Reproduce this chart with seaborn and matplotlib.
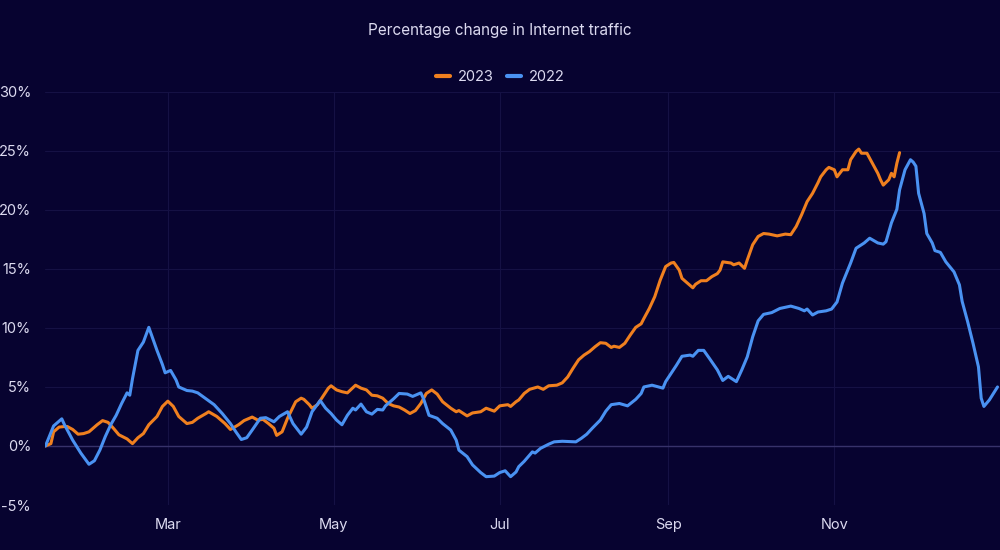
import numpy as np
import pandas as pd
import matplotlib
matplotlib.use('Agg')
import matplotlib.pyplot as plt
import matplotlib.dates as mdates
import seaborn as sns

# 2022 series (month-day, % change)
days_2022 = ['01-15', '01-18', '01-21', '01-22', '01-25', '01-28', '01-31', '02-02', '02-04', '02-06',
             '02-08', '02-10', '02-12', '02-14', '02-15', '02-16', '02-18', '02-20', '02-22', '02-23',
             '02-25', '02-27', '02-28', '03-02', '03-04', '03-05', '03-08', '03-10', '03-12', '03-15',
             '03-18', '03-21', '03-24', '03-26', '03-28', '03-30', '04-01', '04-04', '04-06', '04-09',
             '04-11', '04-14', '04-16', '04-19', '04-21', '04-23', '04-26', '04-28', '04-30', '05-02',
             '05-04', '05-06', '05-08', '05-09', '05-11', '05-13', '05-15', '05-17', '05-19', '05-20',
             '05-23', '05-25', '05-28', '05-30', '05-31', '06-02', '06-03', '06-05', '06-08', '06-10',
             '06-13', '06-15', '06-16', '06-19', '06-21', '06-24', '06-26', '06-29', '07-01', '07-03',
             '07-05', '07-07', '07-08', '07-10', '07-13', '07-14', '07-16', '07-19', '07-21', '07-24',
             '07-29', '07-31', '08-02', '08-04', '08-07', '08-09', '08-11', '08-14', '08-17', '08-20',
             '08-22', '08-23', '08-26', '08-30', '08-31', '09-02', '09-04', '09-06', '09-09', '09-10',
             '09-12', '09-14', '09-16', '09-19', '09-21', '09-23', '09-26', '09-28', '09-30', '10-02',
             '10-04', '10-06', '10-09', '10-12', '10-16', '10-19', '10-21', '10-22', '10-24', '10-26',
             '10-29', '10-31', '11-02', '11-04', '11-07', '11-09', '11-12', '11-14', '11-17', '11-19',
             '11-20', '11-22', '11-24', '11-25', '11-27', '11-29', '11-30', '12-01', '12-02', '12-04',
             '12-05', '12-07', '12-08', '12-10', '12-12', '12-15', '12-17', '12-18', '12-20', '12-22',
             '12-24', '12-25', '12-26', '12-28', '12-31']
vals_2022 = [0.0, 1.7, 2.3, 1.8, 0.5, -0.6, -1.55, -1.25, -0.35, 0.8,
             1.8, 2.6, 3.6, 4.5, 4.3, 5.7, 8.1, 8.8, 10.05, 9.4,
             8.1, 6.9, 6.2, 6.4, 5.6, 5.0, 4.7, 4.65, 4.5, 4.0,
             3.5, 2.75, 1.9, 1.2, 0.55, 0.7, 1.35, 2.35, 2.4, 2.05,
             2.5, 2.9, 1.9, 1.0, 1.6, 2.9, 3.85, 3.2, 2.75, 2.2,
             1.8, 2.6, 3.2, 3.05, 3.55, 2.9, 2.7, 3.1, 3.05, 3.4,
             4.0, 4.45, 4.4, 4.2, 4.3, 4.5, 4.0, 2.6, 2.35, 1.9,
             1.35, 0.5, -0.35, -0.9, -1.6, -2.25, -2.6, -2.55, -2.25, -2.1,
             -2.6, -2.2, -1.75, -1.3, -0.5, -0.6, -0.2, 0.15, 0.35, 0.4,
             0.35, 0.65, 1.0, 1.5, 2.2, 2.95, 3.5, 3.6, 3.4, 3.95,
             4.45, 5.0, 5.15, 4.9, 5.45, 6.15, 6.85, 7.6, 7.7, 7.6,
             8.1, 8.1, 7.45, 6.45, 5.55, 5.9, 5.45, 6.45, 7.55, 9.25,
             10.6, 11.15, 11.3, 11.65, 11.85, 11.65, 11.45, 11.6, 11.1, 11.35,
             11.45, 11.6, 12.2, 13.8, 15.5, 16.75, 17.2, 17.6, 17.2, 17.1,
             17.3, 18.9, 20.05, 21.7, 23.4, 24.25, 24.05, 23.7, 21.4, 19.7,
             18.0, 17.2, 16.55, 16.4, 15.6, 14.75, 13.65, 12.25, 10.55, 8.7,
             6.7, 4.05, 3.35, 3.9, 5.0]

# 2023 series (month-day, % change)
days_2023 = ['01-15', '01-17', '01-18', '01-20', '01-22', '01-23', '01-25', '01-27', '01-29', '01-31',
             '02-03', '02-05', '02-07', '02-09', '02-11', '02-14', '02-16', '02-18', '02-20', '02-22',
             '02-25', '02-27', '03-01', '03-03', '03-05', '03-08', '03-10', '03-12', '03-15', '03-16',
             '03-19', '03-22', '03-24', '03-27', '03-29', '04-01', '04-03', '04-05', '04-07', '04-09',
             '04-10', '04-12', '04-14', '04-17', '04-19', '04-20', '04-22', '04-23', '04-25', '04-27',
             '04-29', '04-30', '05-02', '05-04', '05-06', '05-09', '05-11', '05-13', '05-15', '05-17',
             '05-19', '05-21', '05-23', '05-25', '05-27', '05-29', '05-31', '06-02', '06-04', '06-06',
             '06-08', '06-10', '06-13', '06-15', '06-16', '06-19', '06-21', '06-24', '06-26', '06-29',
             '07-01', '07-04', '07-05', '07-07', '07-08', '07-10', '07-12', '07-15', '07-17', '07-19',
             '07-22', '07-24', '07-26', '07-28', '07-30', '08-01', '08-03', '08-05', '08-07', '08-09',
             '08-11', '08-12', '08-14', '08-16', '08-18', '08-20', '08-22', '08-23', '08-25', '08-27',
             '08-29', '08-31', '09-02', '09-03', '09-05', '09-06', '09-08', '09-10', '09-11', '09-13',
             '09-15', '09-17', '09-19', '09-20', '09-21', '09-24', '09-25', '09-27', '09-29', '09-30',
             '10-02', '10-04', '10-06', '10-08', '10-11', '10-14', '10-16', '10-18', '10-20', '10-22',
             '10-24', '10-26', '10-27', '10-29', '10-30', '11-01', '11-02', '11-04', '11-06', '11-07',
             '11-09', '11-10', '11-11', '11-13', '11-15', '11-17', '11-18', '11-19', '11-21', '11-22',
             '11-23', '11-24', '11-25']
vals_2023 = [0.0, 0.2, 1.2, 1.6, 1.65, 1.65, 1.4, 1.0, 1.05, 1.2,
             1.8, 2.15, 2.0, 1.5, 0.95, 0.6, 0.2, 0.7, 1.05, 1.8,
             2.5, 3.35, 3.8, 3.35, 2.5, 1.9, 2.0, 2.35, 2.75, 2.9,
             2.5, 1.9, 1.4, 1.8, 2.15, 2.45, 2.2, 2.25, 1.9, 1.5,
             0.9, 1.2, 2.35, 3.75, 4.05, 3.95, 3.5, 3.2, 3.5, 4.2,
             4.9, 5.1, 4.75, 4.6, 4.5, 5.15, 4.9, 4.75, 4.3, 4.25,
             4.05, 3.6, 3.4, 3.3, 3.05, 2.75, 3.0, 3.6, 4.45, 4.75,
             4.4, 3.75, 3.2, 2.9, 3.0, 2.55, 2.8, 2.9, 3.2, 2.95,
             3.4, 3.5, 3.35, 3.75, 3.9, 4.45, 4.8, 5.0, 4.8, 5.1,
             5.15, 5.35, 5.85, 6.6, 7.3, 7.7, 8.0, 8.4, 8.75, 8.7,
             8.35, 8.45, 8.35, 8.7, 9.4, 10.05, 10.35, 10.8, 11.65, 12.65,
             14.05, 15.2, 15.5, 15.55, 14.9, 14.2, 13.8, 13.4, 13.7, 14.0,
             14.0, 14.35, 14.6, 14.9, 15.6, 15.5, 15.35, 15.5, 15.05, 15.75,
             17.05, 17.75, 18.0, 17.95, 17.8, 17.95, 17.9, 18.6, 19.6, 20.7,
             21.4, 22.3, 22.8, 23.4, 23.6, 23.4, 22.8, 23.4, 23.4, 24.25,
             24.95, 25.15, 24.8, 24.8, 23.95, 23.1, 22.55, 22.1, 22.55, 23.1,
             22.8, 23.95, 24.85]

series_names = ['2023', '2022']
series_colors = ['#f0801f', '#4a92f2']
y_ticks = [-5, 0, 5, 10, 15, 20, 25, 30]

BG = '#070330'
GRID = '#151144'
TEXT = '#dcdaf0'

# both years plotted on a common calendar axis
df = pd.concat([
    pd.DataFrame({'date': pd.to_datetime(['2022-' + d for d in days_2023]), 'value': vals_2023, 'year': '2023'}),
    pd.DataFrame({'date': pd.to_datetime(['2022-' + d for d in days_2022]), 'value': vals_2022, 'year': '2022'}),
], ignore_index=True)

sns.set_theme(style='dark')
plt.rcParams['font.family'] = ['Inter', 'DejaVu Sans']

fig = plt.figure(figsize=(10, 5.5), dpi=100, facecolor=BG)
ax = fig.add_axes([0.045, 0.0818, 0.955, 0.7512])
ax.set_facecolor(BG)

sns.lineplot(data=df, x='date', y='value', hue='year', hue_order=series_names,
             palette=dict(zip(series_names, series_colors)), linewidth=2.2, ax=ax, legend=False)

ax.set_xlim(pd.Timestamp('2022-01-14 20:00'), pd.Timestamp('2022-12-31 22:00'))
ax.set_ylim(-5, 30)
ax.set_yticks(y_ticks)
ax.set_yticklabels([f'{t}%' for t in y_ticks])
ax.xaxis.set_major_locator(mdates.MonthLocator(bymonth=[3, 5, 7, 9, 11]))
ax.xaxis.set_major_formatter(mdates.DateFormatter('%b'))

ax.grid(True, color=GRID, linewidth=0.8)
ax.axhline(0, color='#37326a', linewidth=1.0, zorder=1)
for s in ax.spines.values():
    s.set_visible(False)
ax.tick_params(axis='both', length=0, colors=TEXT, labelsize=10.5)
ax.tick_params(axis='y', pad=10)
ax.tick_params(axis='x', pad=9)
ax.set_xlabel('')
ax.set_ylabel('')

fig.text(0.5, 1 - 30 / 550, 'Percentage change in Internet traffic', ha='center', va='center',
         color=TEXT, fontsize=11)

handles = [plt.Line2D([], [], color=c, linewidth=3) for c in series_colors]
fig.legend(handles, series_names, loc='center', bbox_to_anchor=(0.5, 1 - 77 / 550), ncol=2,
           frameon=False, handlelength=1.0, handletextpad=0.5, columnspacing=0.9,
           labelcolor=TEXT, fontsize=10.5)

fig.savefig('out.png', dpi=100, facecolor=BG)
